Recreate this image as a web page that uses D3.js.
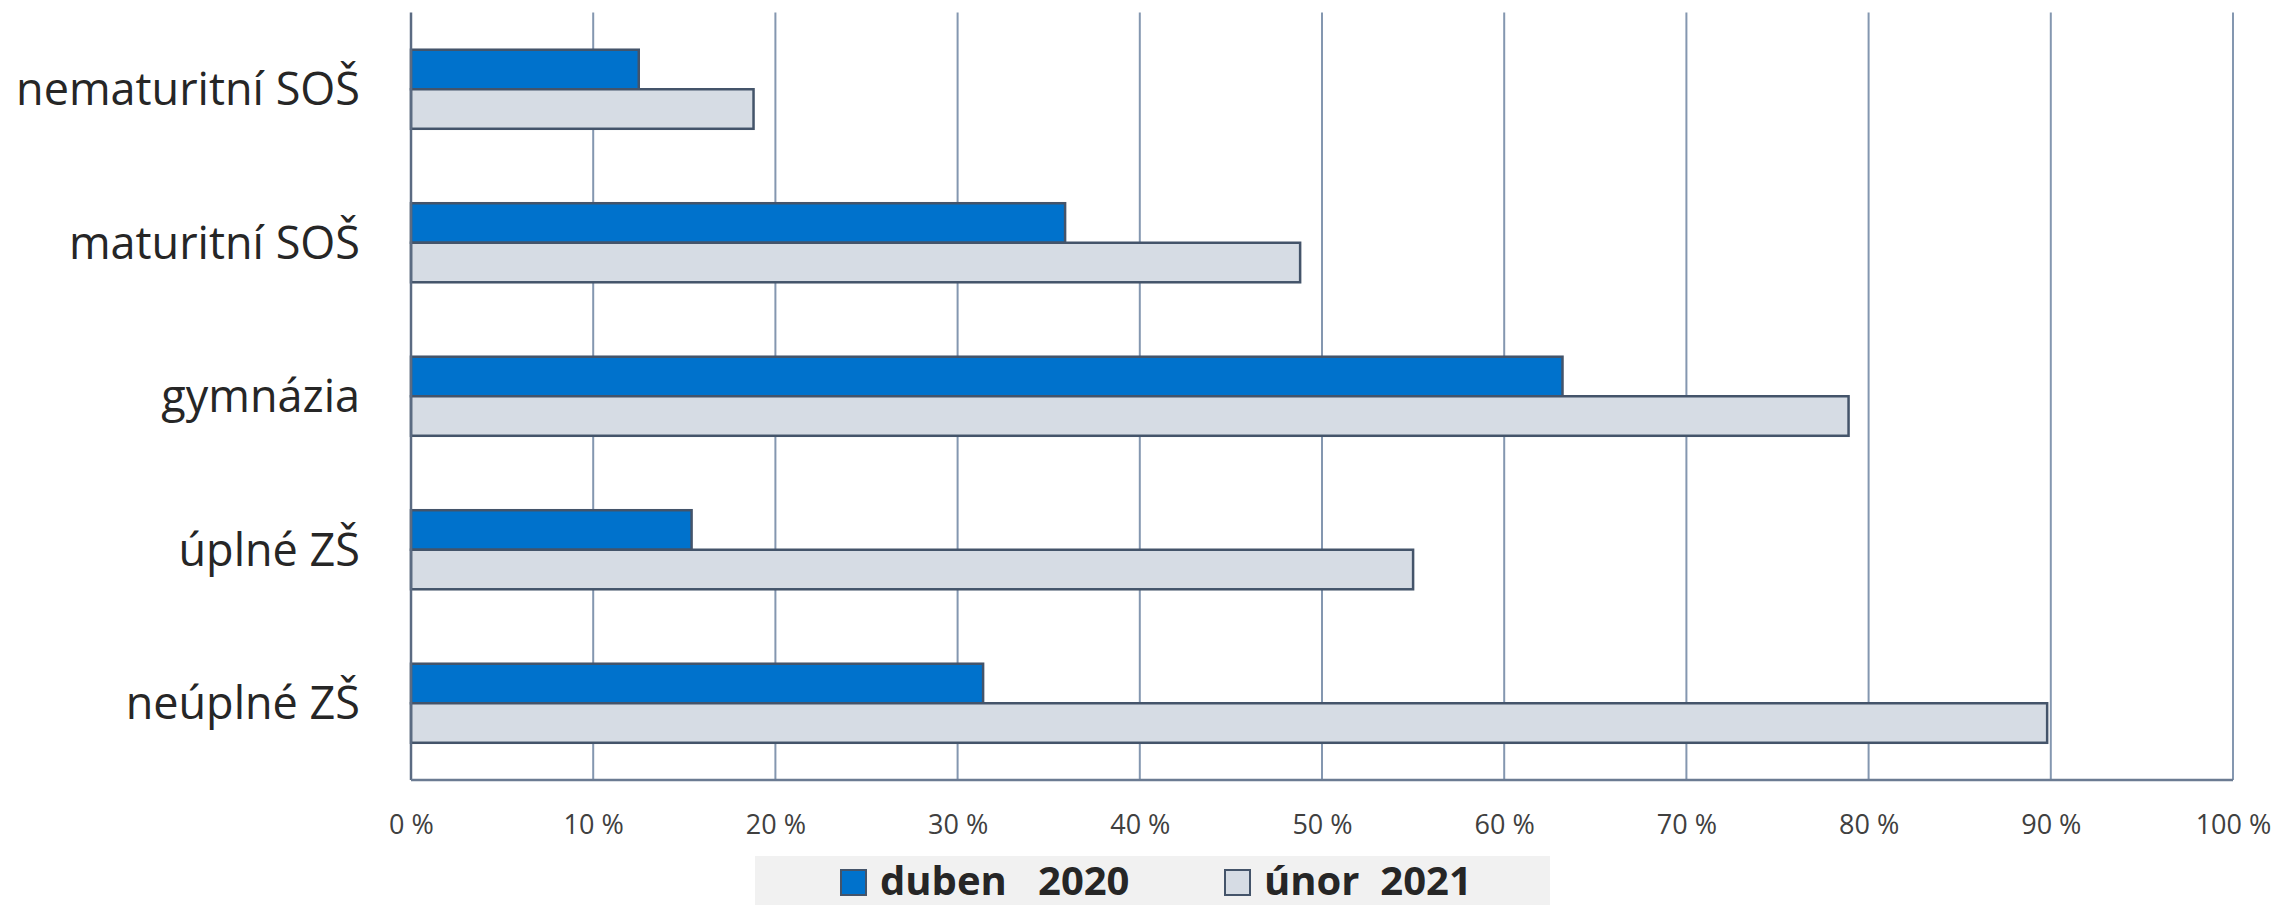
<!DOCTYPE html>
<html>
<head>
<meta charset="utf-8">
<script src="https://cdn.jsdelivr.net/npm/d3@7/dist/d3.min.js"></script>
<style>
  html, body { margin: 0; padding: 0; background: #ffffff; }
  svg { display: block; }
  text { font-family: "Open Sans", "Noto Sans", sans-serif; }
</style>
</head>
<body>
<svg id="chart" width="2279" height="905"></svg>
<script>
// ---- data ----
const categories = ["nematuritní SOŠ", "maturitní SOŠ", "gymnázia", "úplné ZŠ", "neúplné ZŠ"];
const seriesNames = ["duben   2020", "únor  2021"];
const duben2020 = [12.5, 35.9, 63.2, 15.4, 31.4];
const unor2021 = [18.8, 48.8, 78.9, 55.0, 89.8];
const tickValues = [0, 10, 20, 30, 40, 50, 60, 70, 80, 90, 100];
const tickLabels = ["0 %", "10 %", "20 %", "30 %", "40 %", "50 %", "60 %", "70 %", "80 %", "90 %", "100 %"];

(function () {
const seriesValues = [duben2020, unor2021];
const colors = ["#0072cc", "#d6dce4"];
const strokeColor = "#44546a";

const svg = d3.select("#chart");
const mLeft = 411, mRight = 2233, mTop = 12.5, mBottom = 780;

const x = d3.scaleLinear().domain([0, 100]).range([mLeft, mRight]);
const y0 = d3.scaleBand().domain(categories).range([mTop, mBottom])
  .paddingInner(0.485).paddingOuter(0.2425);
const y1 = d3.scaleBand().domain(seriesNames).range([0, y0.bandwidth()]);

// gridlines
svg.append("g").selectAll("line").data(tickValues.filter(d => d > 0)).join("line")
  .attr("x1", d => x(d)).attr("x2", d => x(d))
  .attr("y1", mTop).attr("y2", mBottom)
  .attr("stroke", "#8497b0").attr("stroke-width", 2);

// bars
const groups = svg.append("g").selectAll("g").data(categories).join("g")
  .attr("transform", c => `translate(0,${y0(c)})`);
groups.selectAll("rect")
  .data((c, i) => seriesNames.map((s, j) => ({ s, j, v: seriesValues[j][i] })))
  .join("rect")
  .attr("x", x(0))
  .attr("y", d => y1(d.s))
  .attr("width", d => x(d.v) - x(0))
  .attr("height", y1.bandwidth())
  .attr("fill", d => colors[d.j])
  .attr("stroke", strokeColor)
  .attr("stroke-width", 2.5);

// axis lines
svg.append("line").attr("x1", mLeft).attr("x2", mLeft).attr("y1", mTop).attr("y2", mBottom)
  .attr("stroke", "#5b6b82").attr("stroke-width", 2.5);
svg.append("line").attr("x1", mLeft).attr("x2", mRight).attr("y1", mBottom).attr("y2", mBottom)
  .attr("stroke", "#6b7b92").attr("stroke-width", 2.5);

// x axis labels
const xAxis = d3.axisBottom(x).tickValues(tickValues)
  .tickFormat((d, i) => tickLabels[i]).tickSize(0).tickPadding(0);
const gx = svg.append("g").attr("transform", `translate(0,${mBottom})`).call(xAxis);
gx.select(".domain").remove();
gx.selectAll("text")
  .attr("y", 53.5).attr("dy", null)
  .style("font-family", '"Open Sans", sans-serif')
  .style("font-size", "27px")
  .attr("fill", "#404040");

// y axis category labels
const yAxis = d3.axisLeft(d3.scaleBand().domain(categories).range([mTop, mBottom]))
  .tickSize(0).tickPadding(0);
const gy = svg.append("g").attr("transform", `translate(${mLeft - 51},0)`).call(yAxis);
gy.select(".domain").remove();
gy.selectAll("text")
  .attr("dy", "0.36em")
  .style("font-family", '"Open Sans", sans-serif')
  .style("font-size", "45px")
  .attr("fill", "#262626");

// legend
const legend = svg.append("g");
legend.append("rect").attr("x", 755).attr("y", 856).attr("width", 795).attr("height", 60)
  .attr("fill", "#f1f1f1");
const legendX = [841, 1225];
const li = legend.selectAll("g.item").data(seriesNames).join("g").attr("class", "item")
  .attr("transform", (d, i) => `translate(${legendX[i]},870)`);
li.append("rect").attr("x", 0).attr("y", 0).attr("width", 25).attr("height", 25)
  .attr("fill", (d, i) => colors[i]).attr("stroke", strokeColor).attr("stroke-width", 2);
li.append("text").attr("x", 39).attr("y", 24.5)
  .style("white-space", "pre")
  .style("font-family", '"Open Sans", sans-serif')
  .style("font-weight", "bold")
  .style("font-size", "40px")
  .attr("fill", "#262626")
  .text(d => d);
})();
</script>
</body>
</html>
